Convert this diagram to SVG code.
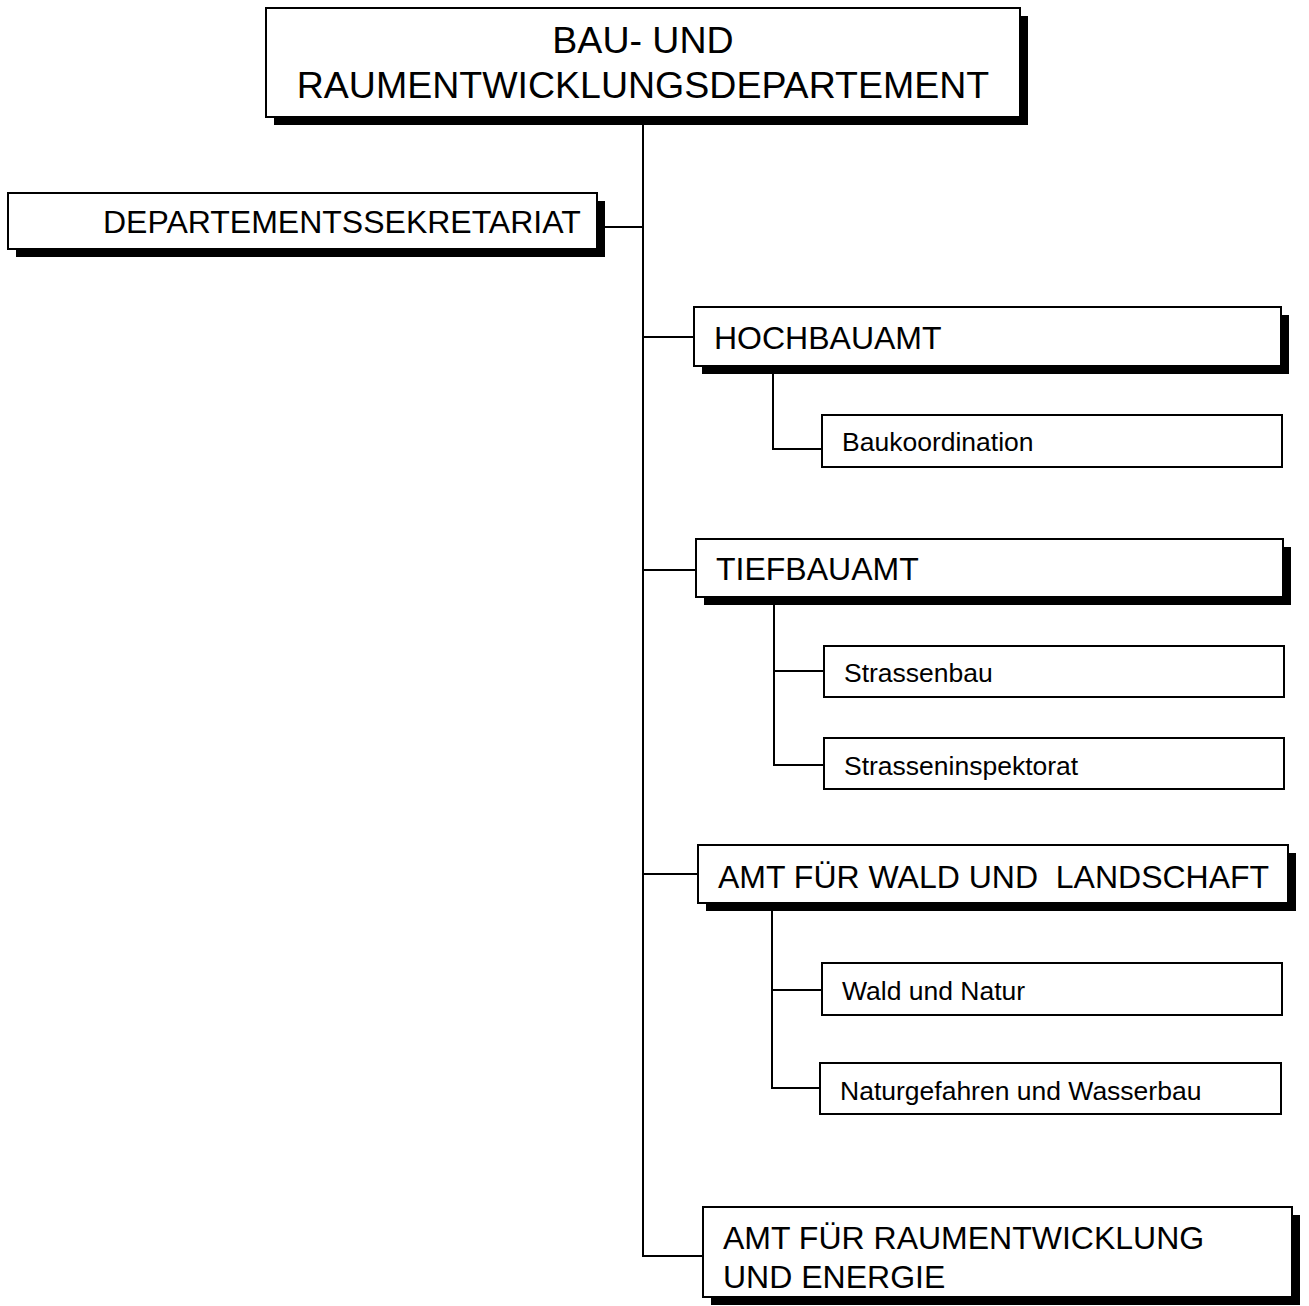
<svg xmlns="http://www.w3.org/2000/svg" width="1309" height="1306" viewBox="0 0 1309 1306">
<style>
.box{fill:#fff;stroke:#000;stroke-width:2}
.sh{fill:#000}
.t{font-family:"Liberation Sans",Arial,sans-serif;fill:#000;white-space:pre}
.t1{font-size:37.5px}
.t2{font-size:32px}
.t3{font-size:26.5px}
.c{fill:none;stroke:#000;stroke-width:2}
</style>
<rect width="1309" height="1306" fill="#fff"/>
<g id="connectors">
<path class="c" d="M643 117 V1256 H703"/>
<path class="c" d="M597 227 H643"/>
<path class="c" d="M643 337 H694"/>
<path class="c" d="M773 366 V449 H822"/>
<path class="c" d="M643 570 H696"/>
<path class="c" d="M774 597 V765 H824 M774 671 H824"/>
<path class="c" d="M643 874 H698"/>
<path class="c" d="M772 903 V1088 H820 M772 990 H822"/>
</g>
<g id="n-dept">
<rect class="sh" x="274" y="16" width="754" height="109"/>
<rect class="box" x="266" y="8" width="754" height="109"/>
<text class="t t1" x="643" y="53" text-anchor="middle">BAU- UND</text>
<text class="t t1" x="643" y="98" text-anchor="middle">RAUMENTWICKLUNGSDEPARTEMENT</text>
</g>
<g id="n-sekretariat">
<rect class="sh" x="16" y="201" width="589" height="56"/>
<rect class="box" x="8" y="193" width="589" height="56"/>
<text class="t t2" x="103" y="233">DEPARTEMENTSSEKRETARIAT</text>
</g>
<g id="n-hochbau">
<rect class="sh" x="702" y="315" width="587" height="59"/>
<rect class="box" x="694" y="307" width="587" height="59"/>
<text class="t t2" x="714" y="349">HOCHBAUAMT</text>
</g>
<g id="n-baukoordination">
<rect class="box" x="822" y="415" width="460" height="52"/>
<text class="t t3" x="842" y="451">Baukoordination</text>
</g>
<g id="n-tiefbau">
<rect class="sh" x="704" y="547" width="587" height="58"/>
<rect class="box" x="696" y="539" width="587" height="58"/>
<text class="t t2" x="716" y="580">TIEFBAUAMT</text>
</g>
<g id="n-strassenbau">
<rect class="box" x="824" y="646" width="460" height="51"/>
<text class="t t3" x="844" y="682">Strassenbau</text>
</g>
<g id="n-strasseninspektorat">
<rect class="box" x="824" y="738" width="460" height="51"/>
<text class="t t3" x="844" y="775">Strasseninspektorat</text>
</g>
<g id="n-wald-landschaft">
<rect class="sh" x="706" y="853" width="590" height="58"/>
<rect class="box" x="698" y="845" width="590" height="58"/>
<text class="t t2" x="718" y="888">AMT FÜR WALD UND  LANDSCHAFT</text>
</g>
<g id="n-wald-natur">
<rect class="box" x="822" y="963" width="460" height="52"/>
<text class="t t3" x="842" y="1000">Wald und Natur</text>
</g>
<g id="n-naturgefahren">
<rect class="box" x="820" y="1063" width="461" height="51"/>
<text class="t t3" x="840" y="1100">Naturgefahren und Wasserbau</text>
</g>
<g id="n-raumentwicklung">
<rect class="sh" x="711" y="1215" width="589" height="90"/>
<rect class="box" x="703" y="1207" width="589" height="90"/>
<text class="t t2" x="723" y="1249">AMT FÜR RAUMENTWICKLUNG</text>
<text class="t t2" x="723" y="1288">UND ENERGIE</text>
</g>
</svg>
